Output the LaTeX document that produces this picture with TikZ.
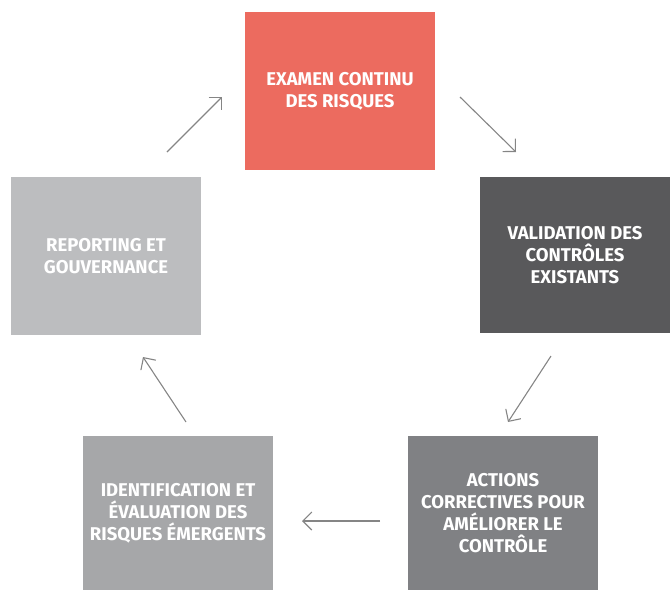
\documentclass[tikz,border=0pt]{standalone}
\usepackage{fontspec}
\setmainfont{Fira Sans}
\usetikzlibrary{arrows.meta, positioning}

\definecolor{riskred}{HTML}{EC6B5F}
\definecolor{darkgrey}{HTML}{59595B}
\definecolor{midgrey}{HTML}{808184}
\definecolor{lightgrey}{HTML}{A6A7A9}
\definecolor{palegrey}{HTML}{BCBDBF}
\definecolor{arrowgrey}{HTML}{858585}

\begin{document}
\begin{tikzpicture}[
		x=1pt, y=-1pt,
		block/.style={
			inner sep=0pt,
			align=center,
			minimum width=190pt,
			minimum height=156pt,
			text=white,
			font=\fontsize{18.5}{22}\selectfont\bfseries
		},
		arrow/.style={-{Straight Barb[length=9pt, width=18pt]}, line width=1.1pt, draw=arrowgrey}
		]
		
		\useasboundingbox (0,0) rectangle (670,590);
		
		\node[block, fill=riskred, minimum height=158pt] (examen) at (340,91)
		{EXAMEN CONTINU\\DES RISQUES};
		
		\node[block, fill=darkgrey] (validation) at (575,255)
		{VALIDATION DES\\CONTRÔLES\\EXISTANTS};
		
		\node[block, fill=midgrey, minimum height=154pt] (actions) at (503,513)
		{ACTIONS\\CORRECTIVES POUR\\AMÉLIORER LE\\CONTRÔLE};
		
		\node[block, fill=lightgrey, minimum height=154pt] (emergents) at (178,513)
		{IDENTIFICATION ET\\ÉVALUATION DES\\RISQUES ÉMERGENTS};
		
		\node[block, fill=palegrey, minimum height=158pt] (reporting) at (106,256)
		{REPORTING ET\\GOUVERNANCE};
		
		% arrow ends
		\coordinate (a1s) at (167,152);
		\coordinate (a1e) at (222,97);
		\coordinate (a2s) at (460,97);
		\coordinate (a2e) at (516,152);
		\coordinate (a3s) at (551,356);
		\coordinate (a3e) at (508,422);
		\coordinate (a4s) at (380,521);
		\coordinate (a4e) at (302,521);
		\coordinate (a5s) at (186,422);
		\coordinate (a5e) at (143,357);
		
		\draw[arrow] (a1s) -- (a1e);
		\draw[arrow] (a2s) -- (a2e);
		\draw[arrow] (a3s) -- (a3e);
		\draw[arrow] (a4s) -- (a4e);
		\draw[arrow] (a5s) -- (a5e);
		
\end{tikzpicture}
\end{document}
